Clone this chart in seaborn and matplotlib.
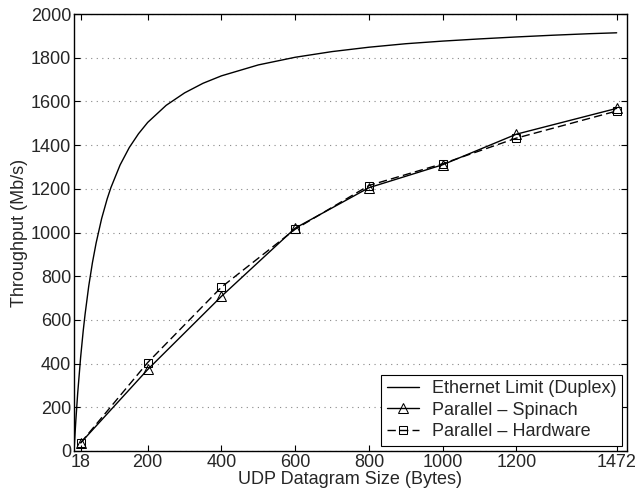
import numpy as np
import pandas as pd
import matplotlib
matplotlib.use("Agg")
import matplotlib.pyplot as plt
import seaborn as sns

# Ethernet duplex limit curve
eth_size = [0, 5, 10, 18, 25, 30, 40, 50, 60, 75, 90, 100, 125, 150, 175, 200,
            250, 300, 350, 400, 500, 600, 700, 800, 900, 1000, 1100, 1200,
            1300, 1400, 1472]
eth_tput = [0, 140, 264, 429, 550, 625, 755, 862, 952, 1064, 1154, 1205, 1309,
            1389, 1452, 1504, 1582, 1639, 1683, 1717, 1767, 1802, 1828, 1848,
            1864, 1876, 1886, 1895, 1903, 1910, 1914]

sizes = [18, 200, 400, 600, 800, 1000, 1200, 1472]
spinach = [37, 373, 708, 1020, 1205, 1310, 1450, 1568]
hardware = [37, 405, 750, 1015, 1215, 1315, 1432, 1556]

xticks = [18, 200, 400, 600, 800, 1000, 1200, 1472]
yticks = [0, 200, 400, 600, 800, 1000, 1200, 1400, 1600, 1800, 2000]

sns.set_style("ticks")
plt.rcParams["font.family"] = ["Liberation Sans", "DejaVu Sans"]
plt.rcParams["xtick.direction"] = "in"
plt.rcParams["ytick.direction"] = "in"

eth = pd.DataFrame({"size": eth_size, "tput": eth_tput})
meas = pd.DataFrame({"size": sizes, "spinach": spinach, "hardware": hardware})

fig = plt.figure(figsize=(6.39, 4.95), dpi=100)
ax = fig.add_axes([0.1158, 0.0889, 0.8654, 0.8828])

sns.lineplot(data=eth, x="size", y="tput", ax=ax, color="black", lw=1.0,
             label="Ethernet Limit (Duplex)")
sns.lineplot(data=meas, x="size", y="spinach", ax=ax, color="black", lw=1.0,
             marker="^", markersize=7, markerfacecolor="none",
             markeredgecolor="black", label="Parallel \u2013 Spinach")
sns.lineplot(data=meas, x="size", y="hardware", ax=ax, color="black",
             lw=1.0, marker="s", markersize=6, markerfacecolor="none",
             markeredgecolor="black", label="Parallel \u2013 Hardware")
ax.lines[-1].set_dashes([6, 3])

ax.set_xlim(0, 1500)
ax.set_ylim(0, 2000)
ax.set_xticks(xticks)
ax.set_yticks(yticks)
ax.tick_params(labelsize=13, top=True, right=True, length=4, width=0.8,
               color="black", pad=2)
ax.yaxis.grid(True, linestyle=(0, (1, 4)), color="#888888", lw=0.8)
for s in ax.spines.values():
    s.set_linewidth(1.0)
    s.set_color("black")

ax.set_xlabel("UDP Datagram Size (Bytes)", fontsize=13, labelpad=0)
ax.set_ylabel("Throughput (Mb/s)", fontsize=13, labelpad=2)

leg = ax.legend(loc="lower right", fontsize=13, frameon=True, fancybox=False,
                borderaxespad=0.3, handlelength=1.8, borderpad=0.3,
                labelspacing=0.25, handletextpad=0.7)
leg.get_frame().set_edgecolor("black")
leg.get_frame().set_linewidth(0.8)
leg.get_frame().set_alpha(1)

fig.savefig("out.png", dpi=100)
